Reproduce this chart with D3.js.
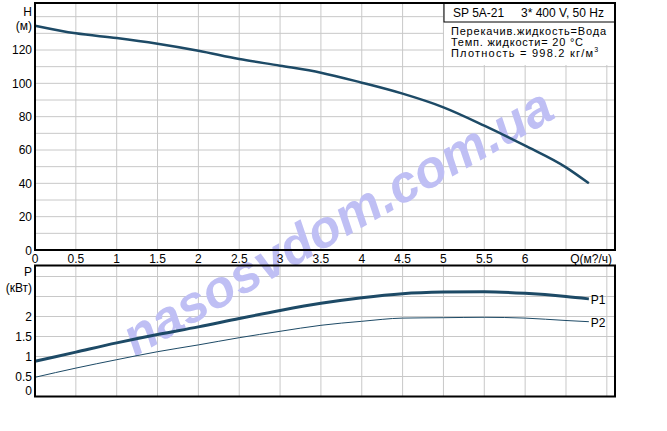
<!DOCTYPE html>
<html><head><meta charset="utf-8">
<script src="https://cdn.jsdelivr.net/npm/d3@7"></script>
<style>body{margin:0;background:#fff}svg{display:block}text{font-family:"Liberation Sans",Arial,sans-serif;font-size:12px;fill:#000}</style>
</head><body><svg id="c" width="667" height="431"></svg>
<script>
const flow = [0,0.5,1,1.5,2,2.5,3,3.5,4,4.5,5,5.5,6,6.5,6.78];
const head = [134.6,130,127.2,123.8,119.6,114.6,110.6,106.4,100.4,93.8,85.6,74.6,62.6,49.6,40];
const powerP1 = [0.88,1.11,1.34,1.55,1.74,1.95,2.15,2.33,2.47,2.57,2.61,2.62,2.58,2.5,2.44];
const powerP2 = [0.48,0.71,0.92,1.12,1.29,1.47,1.63,1.78,1.88,1.96,1.97,1.98,1.96,1.9,1.87];
const qTicks = [0,0.5,1,1.5,2,2.5,3,3.5,4,4.5,5,5.5,6];
const hTicks = [0,20,40,60,80,100,120];
const pTicks = [0,0.5,1,1.5,2];
const infoLines = ["Перекачив.жидкость=Вода","Темп. жидкости= 20 °C","Плотность = 998.2 кг/м"];
const infoWidths = [155,132,142];

const svg = d3.select("#c");
const L=35, R=615;
const x = d3.scaleLinear().domain([0,7.1]).range([L,R]);
const yH = d3.scaleLinear().domain([0,148.2]).range([250,3]);
const yP = d3.scaleLinear().domain([0,3.275]).range([396.5,265.5]);
const grid="#c8c8c8", col="#1d4a66";

function grids(y, yvals){
  const g=svg.append("g");
  d3.range(0.5,7.01,0.5).forEach(v=>g.append("line").attr("x1",x(v)).attr("x2",x(v)).attr("y1",y.range()[0]).attr("y2",y.range()[1]).attr("stroke",grid));
  yvals.forEach(v=>g.append("line").attr("x1",L).attr("x2",R).attr("y1",y(v)).attr("y2",y(v)).attr("stroke",grid));
}
grids(yH, d3.range(10,141,10));
grids(yP, d3.range(0.5,3.01,0.5));

// info box
svg.append("rect").attr("x",444).attr("y",3).attr("width",R-444).attr("height",62).attr("fill","#fff");

// watermark
svg.append("text").attr("transform","translate(337,221) rotate(-29.6)")
  .attr("text-anchor","middle").attr("dy","0.35em")
  .style("font-size","52px").style("font-weight","bold").style("font-style","italic")
  .style("fill","#bfbff4").text("nasosvdom.com.ua");

// box header
svg.append("rect").attr("x",444).attr("y",3).attr("width",R-444).attr("height",19).attr("fill","none").attr("stroke","#000");
svg.append("text").attr("x",453).attr("y",17).text("SP 5A-21");
svg.append("text").attr("x",521).attr("y",17).text("3* 400 V, 50 Hz");
infoLines.forEach((t,i)=>{
  const tx=svg.append("text").attr("x",451).attr("y",34.5+i*11.2).style("font-size","11px");
  tx.append("tspan").attr("textLength",infoWidths[i]).attr("lengthAdjust","spacing").text(t);
  if(i===2) tx.append("tspan").attr("dy",-5).style("font-size","7px").text("3");
});

// curves
const lineH=d3.line().x((d,i)=>x(flow[i])).y(d=>yH(d)).curve(d3.curveMonotoneX);
const lineP=d3.line().x((d,i)=>x(flow[i])).y(d=>yP(d)).curve(d3.curveMonotoneX);
svg.append("path").attr("d",lineH(head)).attr("fill","none").attr("stroke",col).attr("stroke-width",2.5);
svg.append("path").attr("d",lineP(powerP1)).attr("fill","none").attr("stroke",col).attr("stroke-width",3);
svg.append("path").attr("d",lineP(powerP2)).attr("fill","none").attr("stroke",col).attr("stroke-width",1);
svg.append("text").attr("x",x(6.78)+2).attr("y",yP(powerP1[14])+5).text("P1");
svg.append("text").attr("x",x(6.78)+2).attr("y",yP(powerP2[14])+5).text("P2");

// frames
svg.append("rect").attr("x",L).attr("y",3).attr("width",R-L).attr("height",247).attr("fill","none").attr("stroke","#000").attr("stroke-width",2);
svg.append("rect").attr("x",L).attr("y",265.5).attr("width",R-L).attr("height",131).attr("fill","none").attr("stroke","#000").attr("stroke-width",2);

// axes labels
hTicks.forEach(v=>svg.append("text").attr("x",32).attr("y",yH(v)+(v===0?1:0)).attr("dy","0.35em").attr("text-anchor","end").text(v));
pTicks.forEach(v=>svg.append("text").attr("x",32).attr("y",yP(v)-(v===0?6:0)).attr("dy","0.35em").attr("text-anchor","end").text(v));
qTicks.forEach(v=>svg.append("text").attr("x",x(v)).attr("y",263).attr("text-anchor","middle").text(v));
svg.append("text").attr("x",612).attr("y",263).attr("text-anchor","end").text("Q(м?/ч)");
svg.append("text").attr("x",32).attr("y",16).attr("text-anchor","end").text("H");
svg.append("text").attr("x",32).attr("y",30).attr("text-anchor","end").text("(м)");
svg.append("text").attr("x",32).attr("y",276).attr("text-anchor","end").text("P");
svg.append("text").attr("x",32).attr("y",292).attr("text-anchor","end").text("(кВт)");
</script></body></html>
